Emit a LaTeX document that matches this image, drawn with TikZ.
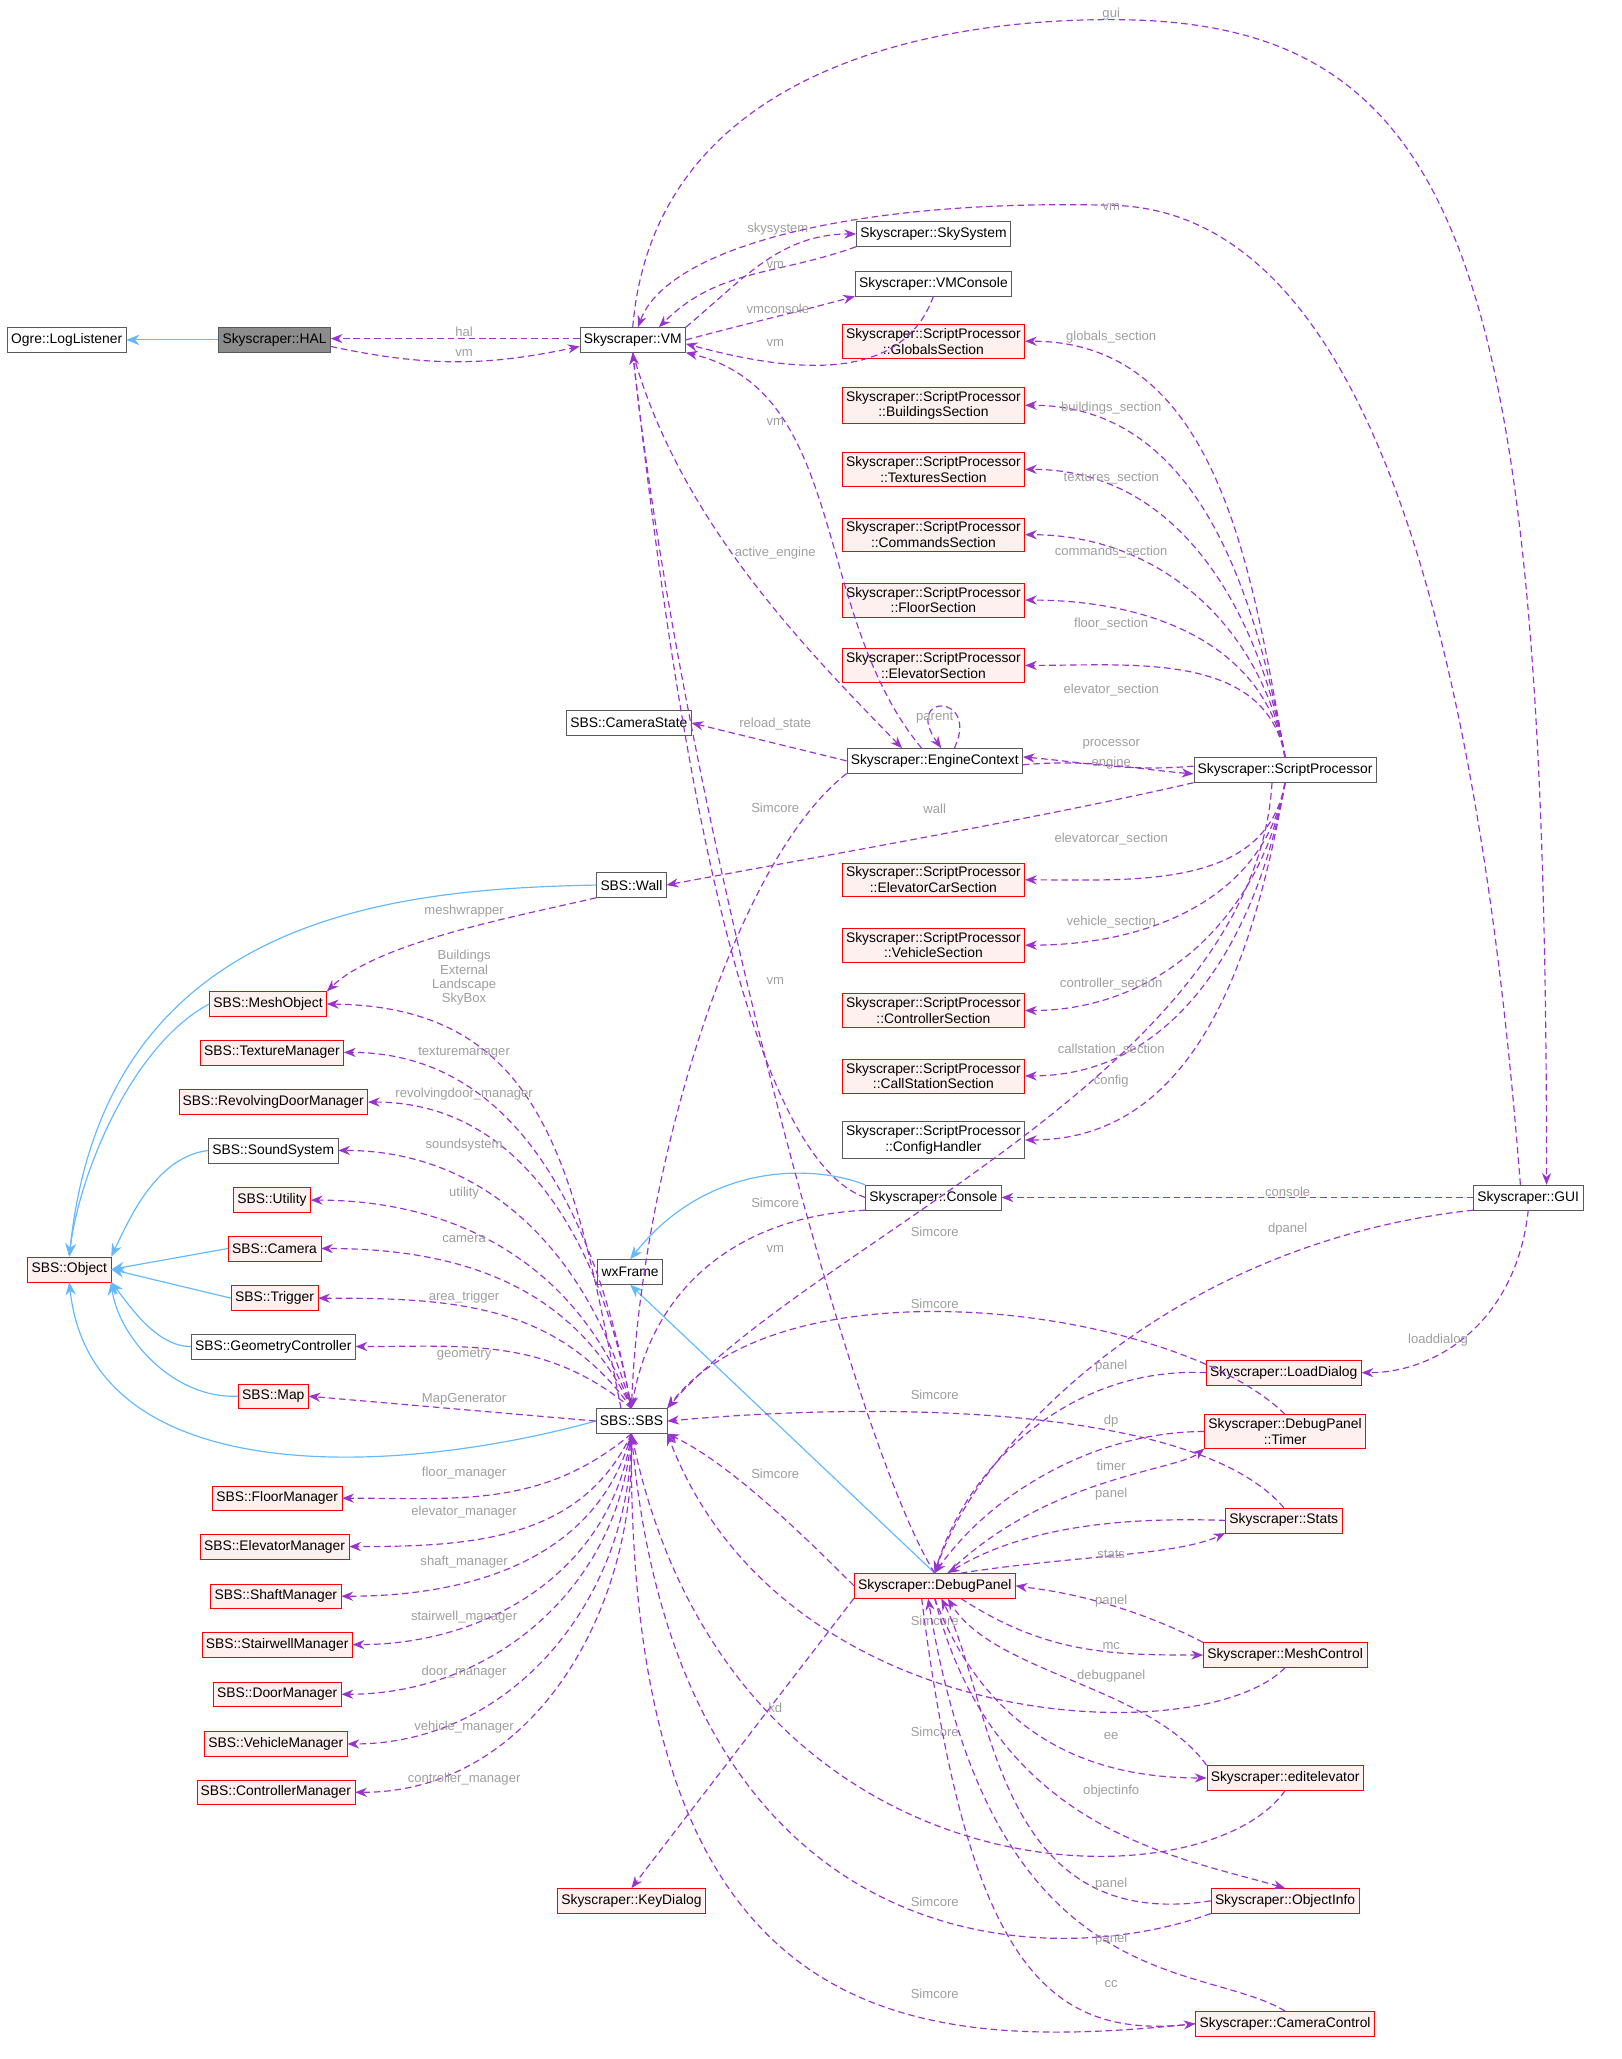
\documentclass[tikz,border=0pt]{standalone}
\usepackage{fontspec}
\setmainfont{Liberation Sans}
\usetikzlibrary{arrows.meta}
\definecolor{edgec}{HTML}{9A32CD}
\definecolor{inhc}{HTML}{63B8FF}
\definecolor{lblc}{HTML}{9E9E9E}
\definecolor{redfill}{HTML}{FFF0F0}
\begin{document}
\begin{tikzpicture}[x=1pt,y=-1pt,
 box/.style={draw=black!65,fill=white,rectangle,minimum height=19,inner sep=3pt,font=\fontsize{10.6}{12}\selectfont,align=center},
 rbox/.style={box,draw=red,fill=redfill},
 gbox/.style={box,fill=black!45},
 dep/.style={draw=edgec,dash pattern=on 5pt off 3pt,line width=0.9pt,-{Stealth[length=9pt,width=7pt]}},
 inh/.style={draw=inhc,line width=0.9pt,-{Stealth[length=10pt,width=8pt]}},
 lbl/.style={text=lblc,font=\fontsize{10}{11}\selectfont,inner sep=1pt,align=center}]
\useasboundingbox (0,0) rectangle (1240,1575);
% nodes
\node[box] (Log) at (51,260) {Ogre::LogListener};
\node[gbox] (HAL) at (210,260) {Skyscraper::HAL};
\node[box] (VM) at (484,260) {Skyscraper::VM};
\node[box] (Sky) at (714,179) {Skyscraper::SkySystem};
\node[box] (VMC) at (714,217) {Skyscraper::VMConsole};
\node[rbox] (Glob) at (714,261) {Skyscraper::ScriptProcessor\\::GlobalsSection};
\node[rbox] (Bld) at (714,310) {Skyscraper::ScriptProcessor\\::BuildingsSection};
\node[rbox] (Tex) at (714,359) {Skyscraper::ScriptProcessor\\::TexturesSection};
\node[rbox] (Cmd) at (714,409) {Skyscraper::ScriptProcessor\\::CommandsSection};
\node[rbox] (Flr) at (714,459) {Skyscraper::ScriptProcessor\\::FloorSection};
\node[rbox] (Elv) at (714,509) {Skyscraper::ScriptProcessor\\::ElevatorSection};
\node[box] (CamS) at (481,553) {SBS::CameraState};
\node[box] (Eng) at (715,582) {Skyscraper::EngineContext};
\node[box] (SP) at (983,589) {Skyscraper::ScriptProcessor};
\node[rbox] (ECar) at (714,673) {Skyscraper::ScriptProcessor\\::ElevatorCarSection};
\node[rbox] (Veh) at (714,723) {Skyscraper::ScriptProcessor\\::VehicleSection};
\node[rbox] (Ctl) at (714,773) {Skyscraper::ScriptProcessor\\::ControllerSection};
\node[rbox] (Call) at (714,823) {Skyscraper::ScriptProcessor\\::CallStationSection};
\node[box] (Cfg) at (714,872) {Skyscraper::ScriptProcessor\\::ConfigHandler};
\node[box] (Con) at (714,916) {Skyscraper::Console};
\node[box] (GUI) at (1169,916) {Skyscraper::GUI};
\node[box] (wx) at (482,973) {wxFrame};
\node[box] (Wall) at (483,677) {SBS::Wall};
\node[box] (SBS) at (483,1087) {SBS::SBS};
\node[rbox] (Mesh) at (205,768) {SBS::MeshObject};
\node[rbox] (TexM) at (208,805) {SBS::TextureManager};
\node[rbox] (Rev) at (209,843) {SBS::RevolvingDoorManager};
\node[box] (Snd) at (209,880) {SBS::SoundSystem};
\node[rbox] (Util) at (208,918) {SBS::Utility};
\node[rbox] (Cam) at (210,955) {SBS::Camera};
\node[rbox] (Trig) at (210,993) {SBS::Trigger};
\node[box] (Geo) at (209,1030) {SBS::GeometryController};
\node[rbox] (Map) at (209,1068) {SBS::Map};
\node[rbox] (Obj) at (53,971) {SBS::Object};
\node[rbox] (FlM) at (212,1146) {SBS::FloorManager};
\node[rbox] (ElM) at (210,1183) {SBS::ElevatorManager};
\node[rbox] (ShM) at (211,1221) {SBS::ShaftManager};
\node[rbox] (StM) at (212,1258) {SBS::StairwellManager};
\node[rbox] (DoM) at (212,1296) {SBS::DoorManager};
\node[rbox] (VeM) at (211,1334) {SBS::VehicleManager};
\node[rbox] (CoM) at (211,1371) {SBS::ControllerManager};
\node[rbox] (Key) at (483,1454) {Skyscraper::KeyDialog};
\node[rbox] (DP) at (715,1213) {Skyscraper::DebugPanel};
\node[rbox] (Load) at (982,1050) {Skyscraper::LoadDialog};
\node[rbox] (Tim) at (983,1095) {Skyscraper::DebugPanel\\::Timer};
\node[rbox] (Sta) at (982,1163) {Skyscraper::Stats};
\node[rbox] (MC) at (983,1266) {Skyscraper::MeshControl};
\node[rbox] (EE) at (983,1360) {Skyscraper::editelevator};
\node[rbox] (OI) at (983,1454) {Skyscraper::ObjectInfo};
\node[rbox] (CC) at (983,1548) {Skyscraper::CameraControl};
% inheritance
\draw[inh] (HAL) -- (Log);
\draw[inh] (Wall.west) .. controls (300,680) and (80,700) .. (Obj.north);
\draw[inh] (Mesh.west) .. controls (100,800) and (60,900) .. (Obj.north);
\draw[inh] (Snd.west) .. controls (120,885) and (100,930) .. (Obj.north east);
\draw[inh] (Cam.west) -- (Obj.east);
\draw[inh] (Trig.west) -- (Obj.east);
\draw[inh] (Geo.west) .. controls (120,1030) and (100,1000) .. (Obj.south east);
\draw[inh] (Map.west) .. controls (130,1070) and (90,1020) .. (Obj.south east);
\draw[inh] (SBS.west) .. controls (300,1130) and (70,1140) .. (Obj.south);
\draw[inh] (Con.north west) .. controls (620,890) and (540,890) .. (wx.north);
\draw[inh] (DP.north) -- (wx.south);
% dependencies top
\draw[dep] ([yshift=1]VM.west) -- ([yshift=1]HAL.east);
\draw[dep] ([yshift=-5]HAL.east) to[out=-12,in=192] ([yshift=-5]VM.west);
\node[lbl] (l1) at (355,254) {hal};
\node[lbl] (l2) at (355,270) {vm};
\draw[dep] (VM.north east) to[out=40,in=180] (Sky.west);
\draw[dep] (Sky.south west) to[out=200,in=45] ([xshift=20]VM.north);
\node[lbl] (l3) at (595,175) {skysystem};
\node[lbl] (l4) at (593,203) {vm};
\draw[dep] (VM.east) to[out=15,in=195] (VMC.south west);
\draw[dep] (VMC.south) to[out=250,in=-15] ([yshift=-3]VM.east);
\node[lbl] (l5) at (595,236) {vmconsole};
\node[lbl] (l6) at (593,262) {vm};
\draw[dep] (VM.north) .. controls (500,60) and (700,15) .. (850,15) .. controls (1120,15) and (1183,200) .. ([xshift=14]GUI.north);
\node[lbl] (l7) at (850,11) {gui};
\draw[dep] ([xshift=-6]GUI.north) .. controls (1120,350) and (1000,160) .. (850,157) .. controls (650,152) and (510,190) .. ([xshift=4]VM.north);
\node[lbl] (l8) at (850,158) {vm};
% sections
\foreach \t/\l/\y in {Glob/globals\_section/258,Bld/buildings\_section/312,Tex/textures\_section/366,Cmd/commands\_section/422,Flr/floor\_section/477,Elv/elevator\_section/528}{
 \draw[dep] (SP.north) to[out=100,in=0] (\t.east);
 \node[lbl] at (850,\y) {\l};}
\foreach \t/\l/\y in {ECar/elevatorcar\_section/642,Veh/vehicle\_section/705,Ctl/controller\_section/753,Call/callstation\_section/803,Cfg/config/827}{
 \draw[dep] (SP.south) to[out=-100,in=0] (\t.east);
 \node[lbl] at (850,\y) {\l};}
\draw[dep] ([yshift=-3]Eng.east) to[out=5,in=175] ([yshift=-3]SP.west);
\draw[dep] ([yshift=3]SP.west) to[out=185,in=-5] ([yshift=3]Eng.east);
\node[lbl] (l9) at (850,569) {processor};
\node[lbl] (l10) at (850,584) {engine};
\draw[dep] (Eng.west) -- (CamS.east);
\node[lbl] (l11) at (593,554) {reload\_state};
\draw[dep] ([xshift=15]Eng.north) .. controls (750,530) and (690,530) .. ([xshift=5]Eng.north);
\node[lbl] (l12) at (715,549) {parent};
\draw[dep] ([xshift=-10]Eng.north) .. controls (620,470) and (650,300) .. (VM.south east);
\draw[dep] (VM.south) .. controls (520,400) and (620,500) .. ([xshift=-25]Eng.north);
\node[lbl] (l13) at (593,323) {vm};
\node[lbl] (l14) at (593,423) {active\_engine};
\draw[dep] (Eng.south west) .. controls (560,660) and (490,900) .. (SBS.north);
\node[lbl] (l15) at (593,618) {Simcore};
\draw[dep] (SP.south west) .. controls (800,625) and (600,660) .. (Wall.east);
\node[lbl] (l16) at (715,619) {wall};
\draw[dep] ([xshift=-10]SP.south) .. controls (960,820) and (620,950) .. (SBS.north east);
\node[lbl] (l17) at (715,942) {Simcore};
\draw[dep] (Con.west) .. controls (560,880) and (510,500) .. (VM.south);
\node[lbl] (l18) at (593,750) {vm};
\draw[dep] (Con.south west) .. controls (570,930) and (500,980) .. (SBS.north);
\node[lbl] (l19) at (593,920) {Simcore};
\draw[dep] (GUI.west) -- (Con.east);
\node[lbl] (l20) at (985,912) {console};
\draw[dep] (GUI.south west) .. controls (900,950) and (750,1100) .. (DP.north);
\node[lbl] (l21) at (985,940) {dpanel};
\draw[dep] (GUI.south) .. controls (1160,1010) and (1100,1050) .. (Load.east);
\node[lbl] (l22) at (1100,1025) {loaddialog};
\draw[dep] (Wall.south west) .. controls (400,700) and (290,720) .. (Mesh.north east);
\node[lbl] (l23) at (355,697) {meshwrapper};
\draw[dep] ([xshift=-8]SBS.north) .. controls (440,900) and (420,770) .. (Mesh.east);
\node[lbl] (l24) at (355,748) {Buildings\\External\\Landscape\\SkyBox};
% SBS upper members
\foreach \t/\l/\y/\o in {TexM/texturemanager/805/100,Rev/revolvingdoor\_manager/837/100,Snd/soundsystem/876/105,Util/utility/913/110,Cam/camera/948/115,Trig/area\_trigger/992/125,Geo/geometry/1036/140}{
 \draw[dep] (SBS.north) to[out=\o,in=0] (\t.east);
 \node[lbl] at (355,\y) {\l};}
\draw[dep] (SBS.west) -- (Map.east);
\node[lbl] (l25) at (355,1070) {MapGenerator};
\foreach \t/\l/\y/\o in {FlM/floor\_manager/1127/220,ElM/elevator\_manager/1157/245,ShM/shaft\_manager/1195/255,StM/stairwell\_manager/1237/262,DoM/door\_manager/1279/266,VeM/vehicle\_manager/1321/270,CoM/controller\_manager/1361/272}{
 \draw[dep] (SBS.south) to[out=\o,in=0] (\t.east);
 \node[lbl] at (355,\y) {\l};}
% debug panel
\draw[dep] (DP.north) .. controls (650,1100) and (520,600) .. (VM.south);
\node[lbl] (l26) at (593,955) {vm};
\draw[dep] (Tim.north) .. controls (900,1000) and (600,960) .. (SBS.north east);
\node[lbl] (l27) at (715,997) {Simcore};
\draw[dep] (Sta.north) .. controls (920,1080) and (700,1070) .. (SBS.east);
\node[lbl] (l28) at (715,1067) {Simcore};
\draw[dep] (DP.west) .. controls (620,1180) and (560,1120) .. (SBS.south east);
\node[lbl] (l29) at (593,1127) {Simcore};
\draw[dep] (MC.south) .. controls (920,1340) and (600,1330) .. (SBS.south east);
\node[lbl] (l30) at (715,1240) {Simcore};
\draw[dep] (EE.south) .. controls (920,1460) and (560,1460) .. (SBS.south);
\node[lbl] (l31) at (715,1325) {Simcore};
\draw[dep] (OI.south west) .. controls (800,1510) and (520,1500) .. (SBS.south);
\node[lbl] (l32) at (715,1455) {Simcore};
\draw[dep] (CC.west) .. controls (700,1570) and (480,1560) .. (SBS.south);
\node[lbl] (l33) at (715,1525) {Simcore};
\draw[dep] (Load.west) .. controls (820,1045) and (740,1120) .. (DP.north);
\node[lbl] (l34) at (850,1045) {panel};
\draw[dep] (Tim.west) .. controls (840,1095) and (760,1140) .. (DP.north);
\node[lbl] (l35) at (850,1087) {dp};
\draw[dep] ([xshift=10]DP.north) .. controls (800,1130) and (900,1125) .. (Tim.south west);
\node[lbl] (l36) at (850,1121) {timer};
\draw[dep] (Sta.west) .. controls (850,1160) and (780,1170) .. ([xshift=10]DP.north);
\node[lbl] (l37) at (850,1143) {panel};
\draw[dep] ([xshift=20]DP.north) .. controls (820,1190) and (900,1190) .. (Sta.south west);
\node[lbl] (l38) at (850,1189) {stats};
\draw[dep] (MC.north west) .. controls (850,1220) and (790,1215) .. (DP.east);
\node[lbl] (l39) at (850,1225) {panel};
\draw[dep] ([xshift=20]DP.south) .. controls (800,1265) and (850,1266) .. (MC.west);
\node[lbl] (l40) at (850,1259) {mc};
\draw[dep] (EE.north west) .. controls (880,1290) and (760,1280) .. ([xshift=10]DP.south);
\node[lbl] (l41) at (850,1282) {debugpanel};
\draw[dep] (DP.south) .. controls (760,1340) and (850,1360) .. (EE.west);
\node[lbl] (l42) at (850,1328) {ee};
\draw[dep] (DP.south) .. controls (760,1400) and (900,1420) .. (OI.north);
\node[lbl] (l43) at (850,1370) {objectinfo};
\draw[dep] (OI.west) .. controls (760,1480) and (760,1300) .. ([xshift=5]DP.south);
\node[lbl] (l44) at (850,1441) {panel};
\draw[dep] (CC.north) .. controls (920,1500) and (760,1530) .. ([xshift=-5]DP.south);
\node[lbl] (l45) at (850,1483) {panel};
\draw[dep] ([xshift=-10]DP.south) .. controls (740,1500) and (800,1560) .. (CC.west);
\node[lbl] (l46) at (850,1518) {cc};
\draw[dep] (DP.south west) -- (Key.north);
\node[lbl] (l47) at (593,1306) {kd};
\end{tikzpicture}
\end{document}
